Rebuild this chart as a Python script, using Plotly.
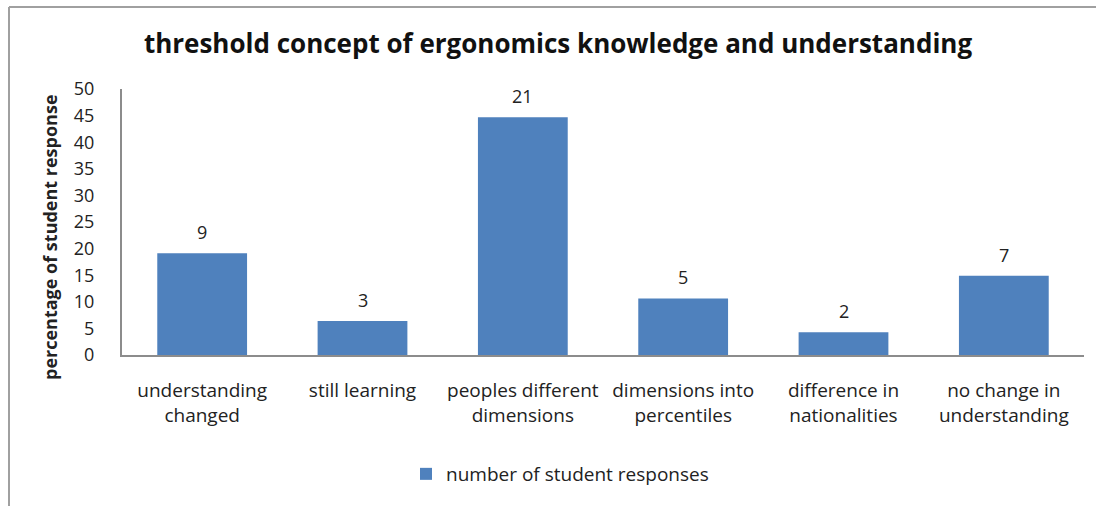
import plotly.graph_objects as go

# Survey results: threshold concepts reported by students
categories = [
    "understanding<br>changed",
    "still learning",
    "peoples different<br>dimensions",
    "dimensions into<br>percentiles",
    "difference in<br>nationalities",
    "no change in<br>understanding",
]
responses = [9, 3, 21, 5, 2, 7]

total = sum(responses)
percentages = [r / total * 100 for r in responses]

y_ticks = [0, 5, 10, 15, 20, 25, 30, 35, 40, 45, 50]

W, H = 1096, 506
L, R, T, B = 122, 12, 89, 151
plot_w = W - L - R
plot_h = H - T - B

FONT = "Open Sans"
BAR_COLOR = "#4F81BD"
AXIS_COLOR = "#8C8C8C"
TEXT_COLOR = "#222222"

fig = go.Figure()
fig.add_trace(go.Bar(
    x=categories,
    y=percentages,
    name="number of student responses",
    marker=dict(color=BAR_COLOR, line=dict(width=0)),
    width=0.56,
    hovertemplate="%{x}<br>%{y:.1f}%<extra></extra>",
))

# count labels above each bar
for cat, pct, n in zip(categories, percentages, responses):
    fig.add_annotation(
        x=cat, y=pct, text=str(n), showarrow=False,
        yshift=21, font=dict(family=FONT, size=18, color=TEXT_COLOR),
    )


def px_x(px):
    return (px - L) / plot_w


def px_y(py):
    return (H - B - py) / plot_h


# vertical axis title
fig.add_annotation(
    xref="paper", yref="paper", x=px_x(50), y=px_y(237),
    text="<b>percentage of student response</b>", textangle=-90,
    showarrow=False, xanchor="center", yanchor="middle",
    font=dict(family=FONT, size=18, color=TEXT_COLOR),
)

# outer chart frame (top and left edges visible)
fig.add_shape(type="line", xref="paper", yref="paper",
              x0=px_x(9), x1=px_x(W + 5), y0=px_y(7), y1=px_y(7),
              line=dict(color="#A0A0A0", width=2))
fig.add_shape(type="line", xref="paper", yref="paper",
              x0=px_x(9), x1=px_x(9), y0=px_y(7), y1=px_y(H + 5),
              line=dict(color="#A0A0A0", width=2))

fig.update_layout(
    width=W, height=H,
    margin=dict(l=L, r=R, t=T, b=B, autoexpand=False),
    paper_bgcolor="white",
    plot_bgcolor="white",
    font=dict(family=FONT, size=19, color=TEXT_COLOR),
    title=dict(
        text="<b>threshold concept of ergonomics knowledge and understanding</b>",
        x=558 / W, xref="container", xanchor="center",
        y=1 - 44 / H, yref="container", yanchor="middle",
        font=dict(family=FONT, size=26, color="#111111"),
    ),
    bargap=0.44,
    showlegend=True,
    legend=dict(
        orientation="h", x=560 / W, xanchor="center", xref="container",
        y=1 - 474 / H, yref="container", yanchor="middle",
        font=dict(family=FONT, size=19, color=TEXT_COLOR),
        itemsizing="constant", itemwidth=30,
    ),
    xaxis=dict(
        showline=True, linecolor=AXIS_COLOR, linewidth=2,
        showgrid=False, ticks="", tickfont=dict(family=FONT, size=19),
        ticklabelstandoff=17,
    ),
    yaxis=dict(
        range=[0, 50], tickvals=y_ticks,
        showline=True, linecolor=AXIS_COLOR, linewidth=2,
        showgrid=False, zeroline=False, ticks="",
        tickfont=dict(family=FONT, size=18),
        ticklabelstandoff=22,
    ),
)

fig.write_html("out.html")
